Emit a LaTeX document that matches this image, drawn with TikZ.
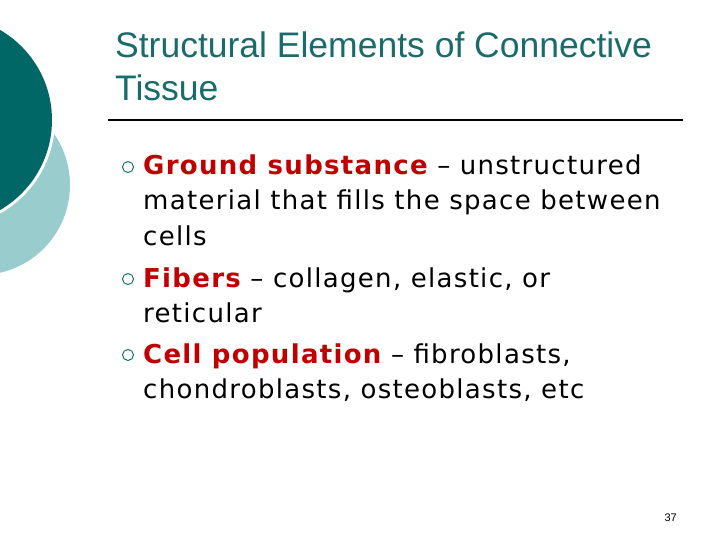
\documentclass[tikz,border=0pt]{standalone}
\usepackage{fontspec}
\setmainfont{DejaVu Sans}[LetterSpace=5]
\newfontfamily\titlefont{Liberation Sans}
\definecolor{dteal}{HTML}{006666}
\definecolor{lteal}{HTML}{99CCCC}
\definecolor{ttl}{HTML}{1A6B6B}
\definecolor{bred}{HTML}{C00000}
\begin{document}
\begin{tikzpicture}[x=1pt,y=-1pt,
  body/.style={anchor=base west,inner sep=0pt,font=\fontsize{26}{26}\selectfont},
  bul/.style={circle,draw=dteal,line width=0.9pt,minimum size=11pt,inner sep=0pt}]
\useasboundingbox (0,0) rectangle (720,540);
\fill[lteal] (-20,185) circle (90);
\fill[white] (-52,120) circle (107);
\fill[dteal] (-52,120) circle (104);
\node[anchor=base west,inner sep=0pt,text=ttl,font=\titlefont\fontsize{35.5}{35.5}\selectfont] (t1) at (115,58) {Structural Elements of Connective};
\node[anchor=base west,inner sep=0pt,text=ttl,font=\titlefont\fontsize{35.5}{35.5}\selectfont] (t2) at (115,101) {Tissue};
\draw[line width=1.5pt] (108,120) -- (683,120);
\node[bul] (b1) at (128,167) {};
\node[bul] (b2) at (128,279) {};
\node[bul] (b3) at (128,355) {};
\node[body] (l1) at (143,175) {\textcolor{bred}{\bfseries Ground substance} – unstructured};
\node[body] (l2) at (143,210) {material that fills the space between};
\node[body] (l3) at (143,245) {cells};
\node[body] (l4) at (143,287) {\textcolor{bred}{\bfseries Fibers} – collagen, elastic, or};
\node[body] (l5) at (143,322) {reticular};
\node[body] (l6) at (143,363) {\textcolor{bred}{\bfseries Cell population} – fibroblasts,};
\node[body] (l7) at (143,398) {chondroblasts, osteoblasts, etc};
\node[anchor=base east,inner sep=0pt,font=\titlefont\fontsize{11}{11}\selectfont] (pg) at (677,521) {37};
\end{tikzpicture}
\end{document}
